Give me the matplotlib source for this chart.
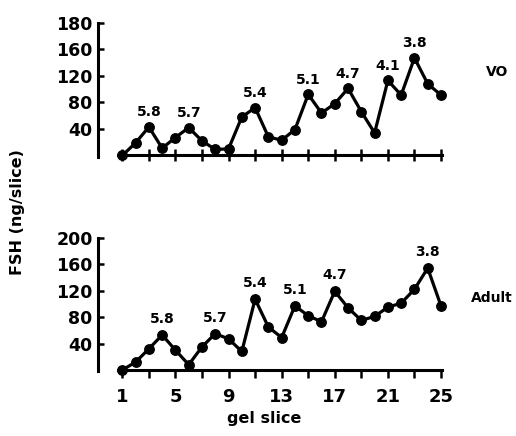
import numpy as np
import matplotlib
matplotlib.use("Agg")
from matplotlib import pyplot as plt

# FSH per gel slice
slices = np.arange(1, 26)
vo_fsh = [0, 19, 43, 11, 27, 42, 22, 9, 10, 58, 72, 28, 23, 39, 92,
          64, 78, 101, 66, 34, 113, 91, 147, 108, 91]
adult_fsh = [0, 12, 32, 53, 30, 8, 35, 55, 47, 28, 107, 65, 49, 97, 82,
             73, 119, 94, 75, 81, 95, 101, 122, 154, 97]

# pI labels on the peaks (slice, label)
vo_peaks = [(3, "5.8"), (6, "5.7"), (11, "5.4"), (15, "5.1"), (18, "4.7"),
            (21, "4.1"), (23, "3.8")]
adult_peaks = [(4, "5.8"), (8, "5.7"), (11, "5.4"), (14, "5.1"), (17, "4.7"),
               (24, "3.8")]

y_ticks = [40, 80, 120, 160, 200]
vo_ytick_labels = ["40", "80", "120", "160", "180"]
adult_ytick_labels = ["40", "80", "120", "160", "200"]
x_ticks = list(range(1, 26, 2))
x_tick_labels = [str(t) if (t - 1) % 4 == 0 else "" for t in x_ticks]

plt.rcParams['font.family'] = ['DejaVu Sans']
plt.rcParams['font.weight'] = 'bold'

fig = plt.figure(figsize=(5.16, 4.36), dpi=100)
ax_top = fig.add_axes([0.1905, 0.6358, 0.677, 0.3197])
ax_bot = fig.add_axes([0.1905, 0.1438, 0.677, 0.3186])


def draw_panel(ax, values, peaks, ylabels, lift):
    ax.plot(slices, values, color='black', lw=2.3, marker='o', ms=6.8,
            solid_joinstyle='round', clip_on=False)
    for s, lab in peaks:
        ax.annotate(lab, (s, values[s - 1]), xytext=(0, lift),
                    textcoords='offset points', ha='center', va='center',
                    fontsize=10, fontweight='bold')
    ax.set_xlim(-0.81, 25.5)
    ax.set_ylim(-5, 205)
    for sp in ['top', 'right']:
        ax.spines[sp].set_visible(False)
    ax.spines['left'].set_bounds(-2, 200)
    ax.spines['bottom'].set_bounds(0.7, 25.1)
    ax.spines['bottom'].set_position(('data', 0))
    ax.spines['left'].set_linewidth(2.2)
    ax.spines['bottom'].set_linewidth(2.2)
    ax.set_yticks(y_ticks)
    ax.set_yticklabels(ylabels, fontsize=12.5, fontweight='bold')
    ax.tick_params(axis='y', direction='in', length=4, width=1.8, pad=4)
    ax.set_xticks(x_ticks)


draw_panel(ax_top, vo_fsh, vo_peaks, vo_ytick_labels, 10.5)
ax_top.set_xticklabels([])
ax_top.tick_params(axis='x', direction='inout', length=8, width=1.8)

draw_panel(ax_bot, adult_fsh, adult_peaks, adult_ytick_labels, 11.5)
ax_bot.set_xticklabels(x_tick_labels, fontsize=13, fontweight='bold')
ax_bot.tick_params(axis='x', direction='out', length=6, width=1.8, pad=7)

fig.text(497 / 516, 1 - 72 / 436, "VO", ha='center', va='center',
         fontsize=10, fontweight='bold')
fig.text(492 / 516, 1 - 298 / 436, "Adult", ha='center', va='center',
         fontsize=10, fontweight='bold')
fig.text(264 / 516, 1 - 418 / 436, "gel slice", ha='center', va='center',
         fontsize=11.5, fontweight='bold')
fig.text(18 / 516, 1 - 212 / 436, "FSH (ng/slice)", ha='center', va='center',
         rotation=90, fontsize=11.5, fontweight='bold')

fig.savefig("out.png", dpi=100, facecolor='white')
